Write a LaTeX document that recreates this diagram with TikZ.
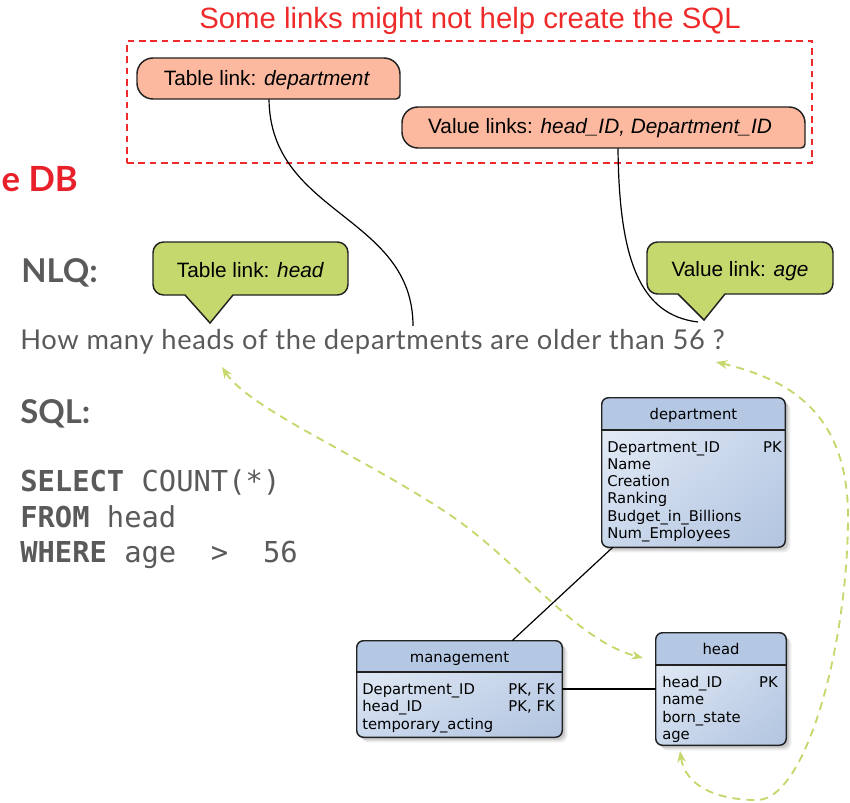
\documentclass[tikz,border=0pt]{standalone}
\usepackage{fontspec}
\setmainfont{Liberation Sans}
\newfontfamily\latof{Lato}
\newfontfamily\latospaced[LetterSpace=2.5]{Lato}
\newfontfamily\dejaf{DejaVu Sans}
\newfontfamily\monof{DejaVu Sans Mono}
\usetikzlibrary{arrows.meta,fit,calc,shadings}

\definecolor{linkred}{HTML}{EE2A2A}
\definecolor{dbred}{HTML}{E8202A}
\definecolor{salmon}{HTML}{FCB9A0}
\definecolor{lime}{HTML}{C5D86D}
\definecolor{slate}{HTML}{5A5A5A}
\definecolor{hdrblue}{HTML}{B4C7E3}
\definecolor{bodylight}{HTML}{EAF0F8}
\definecolor{bodydark}{HTML}{B2C4E0}
\definecolor{bodymid}{HTML}{CAD8EC}
\definecolor{edge}{HTML}{222222}

\newcommand\fs[1]{\fontsize{#1}{#1}\selectfont}

\begin{document}
\begin{tikzpicture}[x=0.75pt,y=-0.75pt,
  box/.style={inner sep=0pt},
  lbl/.style={anchor=base, inner sep=0pt, font=\fs{15.6}},
  shape edge/.style={draw=edge, line width=1.1pt},
  link/.style={draw=black, line width=0.9pt},
  hint/.style={draw=lime, line width=1.4pt, dash pattern=on 6pt off 4.5pt,
    {Stealth[length=8.5pt,width=6.5pt]}-{Stealth[length=8.5pt,width=6.5pt]}},
  heading/.style={anchor=base west, inner sep=0pt, font=\latof\bfseries\fs{24.6}, text=slate},
  code/.style={anchor=base west, inner sep=0pt, font=\monof\fs{21.6}, text=slate},
  fld/.style={anchor=base west, inner sep=0pt, font=\dejaf\fs{11.1}, text=black},
  key/.style={anchor=base east, inner sep=0pt, font=\dejaf\fs{11.1}, text=black},
  ttl/.style={anchor=base, inner sep=0pt, font=\dejaf\fs{11.1}, text=black},
  tshadow/.style={fill=black, opacity=0.13, rounded corners=5pt},
]
\useasboundingbox (0,0) rectangle (850,803);

% ---------- headings ----------
\node[anchor=base east, inner sep=0pt, font=\latof\bfseries\fs{26}, text=dbred] (db) at (78,191) {e DB};
\node[heading] (nlqlbl) at (21,282) {NLQ:};
\node[heading] (sqllbl) at (20,423) {SQL:};

\node[anchor=base west, inner sep=0pt, font=\latospaced\fs{20.5}, text=slate] (nlq) at (20,349)
  {How many heads of the departments are older than 56 ?};

\node[code] (sql1) at (20,491) {\textbf{SELECT} COUNT(*)};
\node[code] (sql2) at (20,527) {\textbf{FROM} head};
\node[code] (sql3) at (20,562) {\textbf{WHERE} age~~>~~56};

% ---------- group of unhelpful links ----------
\node[anchor=base, inner sep=0pt, font=\fs{22}, text=linkred] (note) at (470,28)
  {Some links might not help create the SQL};
\node[fit={(127,41)(812,163)}, box, draw=linkred, line width=1.1pt,
  dash pattern=on 5pt off 3.5pt] (grp) {};

\node[fit={(137,58)(400,99)}, box] (tlDept) {};
\node[fit={(402,107)(805,148)}, box] (vlIDs) {};

% anchor points in the question text
\coordinate (qDept) at (413,326);
\coordinate (qAge)  at (698,322);
\coordinate (qHead) at (222,367);
\coordinate (qNum)  at (716,362);

% leader lines from the link boxes to the question
\draw[link] (269,99) .. controls (270,215) and (413,215) .. (qDept);
\draw[link] (618,148) .. controls (619,260) and (640,315) .. (qAge);

\filldraw[fill=salmon, shape edge] (268,58) [rounded corners=12] -- (400,58)
  [rounded corners=3] -- (400,99) [rounded corners=12] -- (137,99) -- (137,58) -- cycle;
\filldraw[fill=salmon, shape edge] (603,107) [rounded corners=12] -- (805,107)
  [rounded corners=3] -- (805,148) [rounded corners=12] -- (402,148) -- (402,107) -- cycle;
\node[lbl] (tlDeptTxt) at (267,85.5) {Table link: \textit{department}};
\node[lbl] (vlIDsTxt) at (600,133.5) {Value links: \textit{head\_ID, Department\_ID}};

% ---------- callouts ----------
\filldraw[fill=lime, shape edge] (210,323) -- (185,295) [rounded corners=8] -- (153,295)
  -- (153,242) -- (348,242) -- (348,295) [sharp corners] -- (233,295) -- cycle;
\node[lbl] (tlHead) at (250.5,277) {Table link: \textit{head}};

\filldraw[fill=lime, shape edge] (704,320) -- (678,294) [rounded corners=8] -- (647,294)
  -- (647,242) -- (833,242) -- (833,294) [sharp corners] -- (725,294) -- cycle;
\node[lbl] (vlAge) at (740,276) {Value link: \textit{age}};

% ---------- schema tables ----------
\node[fit={(602,398)(785,547)}, box] (dept) {};
\node[fit={(357,641)(562,737)}, box] (mgmt) {};
\node[fit={(656,633)(786,745)}, box] (headT) {};

\foreach \t/\hy in {dept/430, mgmt/672, headT/665}{
  \fill[tshadow] ([shift={(3,3)}]\t.north west) rectangle ([shift={(3,3)}]\t.south east);
  \fill[tshadow, opacity=0.08] ([shift={(5,5)}]\t.north west) rectangle ([shift={(5,5)}]\t.south east);
  \shade[rounded corners=5pt, upper left=bodylight, lower right=bodydark,
    upper right=bodymid, lower left=bodymid]
    (\t.north west) rectangle (\t.south east);
  \begin{scope}
    \clip[rounded corners=5pt] (\t.north west) rectangle (\t.south east);
    \fill[hdrblue] (\t.north west) rectangle (\t.east |- 0,\hy);
  \end{scope}
  \draw[edge, line width=1.1pt] (\t.west |- 0,\hy) -- (\t.east |- 0,\hy);
  \draw[edge, line width=1.1pt, rounded corners=5pt] (\t.north west) rectangle (\t.south east);
}

\node[ttl] (deptTitle) at (693.5,419) {department};
\node[fld] (d1) at (607,452) {Department\_ID};
\node[key] (d1k) at (782,452) {PK};
\node[fld] (d2) at (607,469.3) {Name};
\node[fld] (d3) at (607,486.6) {Creation};
\node[fld] (d4) at (607,503.9) {Ranking};
\node[fld] (d5) at (607,521.2) {Budget\_in\_Billions};
\node[fld] (d6) at (607,538.5) {Num\_Employees};

\node[ttl] (mgmtTitle) at (459.5,662) {management};
\node[fld] (m1) at (362,694) {Department\_ID};
\node[key] (m1k) at (555,694) {PK, FK};
\node[fld] (m2) at (362,711) {head\_ID};
\node[key] (m2k) at (555,711) {PK, FK};
\node[fld] (m3) at (362,729) {temporary\_acting};

\node[ttl] (headTitle) at (721,654) {head};
\node[fld] (h1) at (662,687) {head\_ID};
\node[key] (h1k) at (778,687) {PK};
\node[fld] (h2) at (662,704) {name};
\node[fld] (h3) at (662,722) {born\_state};
\node[fld] (h4) at (662,739) {age};

% foreign-key relations
\draw[link] ([xshift=8.3pt]dept.south west) -- ($(mgmt.north west)!0.756!(mgmt.north east)$);
\draw[link] (mgmt.east |- 0,689) -- (headT.west |- 0,689);

% ---------- grounding of question words in the schema ----------
\coordinate (toHead) at (643,658);
\coordinate (toAge)  at (680,751);
\draw[hint] (qHead) .. controls (250,410) and (370,460) .. (453,517)
  .. controls (520,563) and (575,640) .. (toHead);
\draw[hint] (qNum) .. controls (792,380) and (849,415) .. (848,520)
  .. controls (847,650) and (805,800) .. (757,800)
  .. controls (715,800) and (685,785) .. (toAge);
\end{tikzpicture}
\end{document}
